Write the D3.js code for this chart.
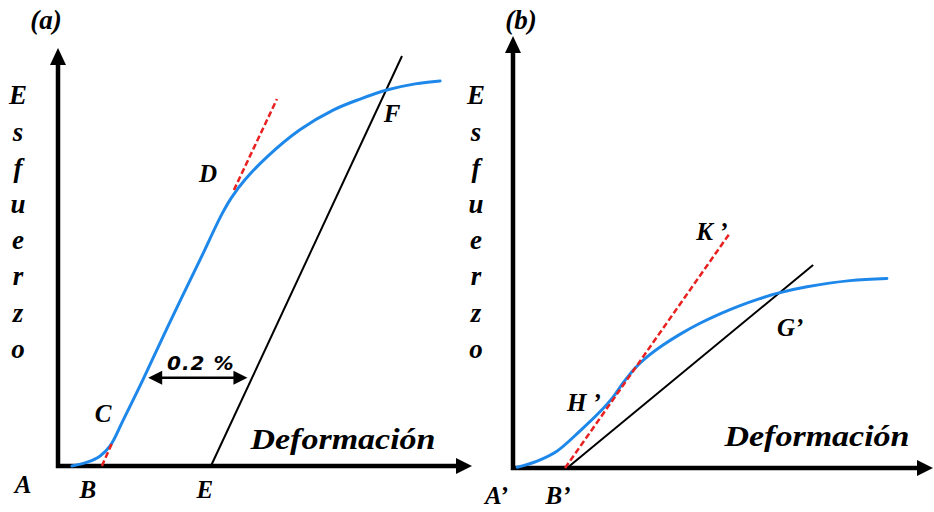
<!DOCTYPE html>
<html>
<head>
<meta charset="utf-8">
<script src="https://cdn.jsdelivr.net/npm/d3@7"></script>
<style>
  html, body { margin: 0; padding: 0; background: #fff; }
  svg text { font-family: "Liberation Serif", "DejaVu Serif", serif; font-weight: bold; font-style: italic; fill: #000; }
</style>
</head>
<body>
<svg id="chart" width="934" height="512"></svg>
<script>
// ---- Panel (a): stress–strain curve with 0.2 % offset line ----
const curveA = [
  [3.4, 0], [7.3, 1.0], [10.2, 2.4], [12.7, 4.9], [15.9, 11.2], [20.7, 21.0],
  [27.3, 35.1], [34.6, 50.2], [40.0, 61.5], [42.4, 65.6], [45.6, 69.8],
  [51.0, 75.4], [59.0, 82.0], [67.1, 86.8], [73.7, 89.5], [80.2, 91.7],
  [87.1, 93.2], [93.2, 93.9]
];
const tangentA_low = [[10.7, 0], [13.2, 5.6]];
const tangentA_high = [[42.9, 67.3], [53.4, 89.5]];
const offsetA = [[37.3, 0], [83.9, 100]];
const offsetArrowA = { y: 21.5, x0: 22.0, x1: 46.2, text: "0.2 %" };
const labelsA = [
  { t: "A", x: -8.5, y: -4.4 }, { t: "B", x: 7.3, y: -5.6 }, { t: "C", x: 11.0, y: 12.8 },
  { t: "D", x: 36.6, y: 71.5 }, { t: "E", x: 35.8, y: -5.6 }, { t: "F", x: 81.5, y: 86.1 }
];

// ---- Panel (b): curve without a defined linear region ----
const curveB = [
  [1.0, 0.2], [5.9, 1.7], [10.7, 4.1], [16.3, 9.0], [21.2, 13.7], [24.4, 17.3],
  [26.8, 20.7], [29.8, 24.4], [32.7, 27.1], [36.6, 30.0], [40.7, 32.6],
  [45.6, 35.3], [50.5, 37.6], [55.4, 39.6], [60.2, 41.3], [64.4, 42.6],
  [71.7, 44.2], [82.2, 45.7], [91.2, 46.2]
];
const tangentB = [[12.7, 0], [52.9, 57.3]];
const offsetB = [[13.2, 0], [73.2, 49.5]];
const labelsB = [
  { t: "A’", x: -4.0, y: -6.6 }, { t: "B’", x: 11.0, y: -6.6 }, { t: "H ’", x: 17.3, y: 16.1 },
  { t: "K ’", x: 48.5, y: 57.8 }, { t: "G’", x: 67.6, y: 34.4 }
];

const axisTitleX = "Deformación";
const axisTitleY = "Esfuerzo";

const svg = d3.select("#chart");

const panels = [
  { tag: "(a)", tagPos: [46, 29], x0: 58, y0: 466, xTip: 472, yTip: 48,
    curve: curveA, tangents: [tangentA_low, tangentA_high], offset: offsetA,
    arrow: offsetArrowA, labels: labelsA, yLetterX: 18, xTitle: [343, 449] },
  { tag: "(b)", tagPos: [521, 29], x0: 513, y0: 468, xTip: 933, yTip: 36,
    curve: curveB, tangents: [tangentB], offset: offsetB,
    arrow: null, labels: labelsB, yLetterX: 476, xTitle: [817, 446] }
];

panels.forEach(p => {
  const x = d3.scaleLinear().domain([0, 100]).range([p.x0, p.x0 + 410]);
  const y = d3.scaleLinear().domain([0, 100]).range([p.y0, p.y0 - 410]);
  const g = svg.append("g");
  const line = d3.line().x(d => x(d[0])).y(d => y(d[1]));

  // axes with arrowheads
  const aw = 4.5;
  g.append("path")
    .attr("d", `M${p.x0},${p.yTip + 14}V${p.y0}H${p.xTip - 14}`)
    .attr("fill", "none").attr("stroke", "#000").attr("stroke-width", aw)
    .attr("stroke-linejoin", "miter");
  g.append("path")
    .attr("d", `M${p.x0},${p.yTip}l-8,17h16z`).attr("fill", "#000");
  g.append("path")
    .attr("d", `M${p.xTip},${p.y0}l-16,-8v16z`).attr("fill", "#000");

  // offset (black) line
  g.append("path").attr("d", line(p.offset))
    .attr("fill", "none").attr("stroke", "#000").attr("stroke-width", 2);

  // stress–strain curve
  g.append("path").attr("d", line.curve(d3.curveCatmullRom.alpha(0.5))(p.curve))
    .attr("fill", "none").attr("stroke", "#1e88ea").attr("stroke-width", 3)
    .attr("stroke-linecap", "round");
  line.curve(d3.curveLinear);

  // tangent lines (red dashed)
  p.tangents.forEach(t => {
    g.append("path").attr("d", line(t))
      .attr("fill", "none").attr("stroke", "#e8201f").attr("stroke-width", 2.5)
      .attr("stroke-dasharray", "6,3");
  });

  // offset arrow
  if (p.arrow) {
    const a = p.arrow, ya = y(a.y), xa = x(a.x0), xb = x(a.x1);
    g.append("line").attr("x1", xa + 10).attr("x2", xb - 10).attr("y1", ya).attr("y2", ya)
      .attr("stroke", "#000").attr("stroke-width", 2.5);
    g.append("path").attr("d", `M${xa},${ya}l14,-7v14z`).attr("fill", "#000");
    g.append("path").attr("d", `M${xb},${ya}l-14,-7v14z`).attr("fill", "#000");
    g.append("text").attr("x", (xa + xb) / 2 + 3).attr("y", ya - 8)
      .attr("text-anchor", "middle")
      .style("font-family", "'DejaVu Sans', sans-serif")
      .attr("font-size", 20).attr("letter-spacing", 1).text(a.text);
  }

  // point labels
  p.labels.forEach(l => {
    g.append("text").attr("x", x(l.x)).attr("y", y(l.y)).attr("dy", "0.35em")
      .attr("text-anchor", "middle").attr("font-size", 25).text(l.t);
  });

  // panel tag
  g.append("text").attr("x", p.tagPos[0]).attr("y", p.tagPos[1])
    .attr("text-anchor", "middle").attr("font-size", 27).text(p.tag);

  // axis titles
  g.append("text").attr("x", p.xTitle[0]).attr("y", p.xTitle[1])
    .attr("text-anchor", "middle").attr("font-size", 29)
    .attr("textLength", 185).attr("lengthAdjust", "spacingAndGlyphs").text(axisTitleX);
  Array.from(axisTitleY).forEach((ch, i) => {
    g.append("text").attr("x", p.yLetterX).attr("y", 95 + i * 36.2).attr("dy", "0.35em")
      .attr("text-anchor", "middle").attr("font-size", 27).text(ch);
  });
});
</script>
</body>
</html>
